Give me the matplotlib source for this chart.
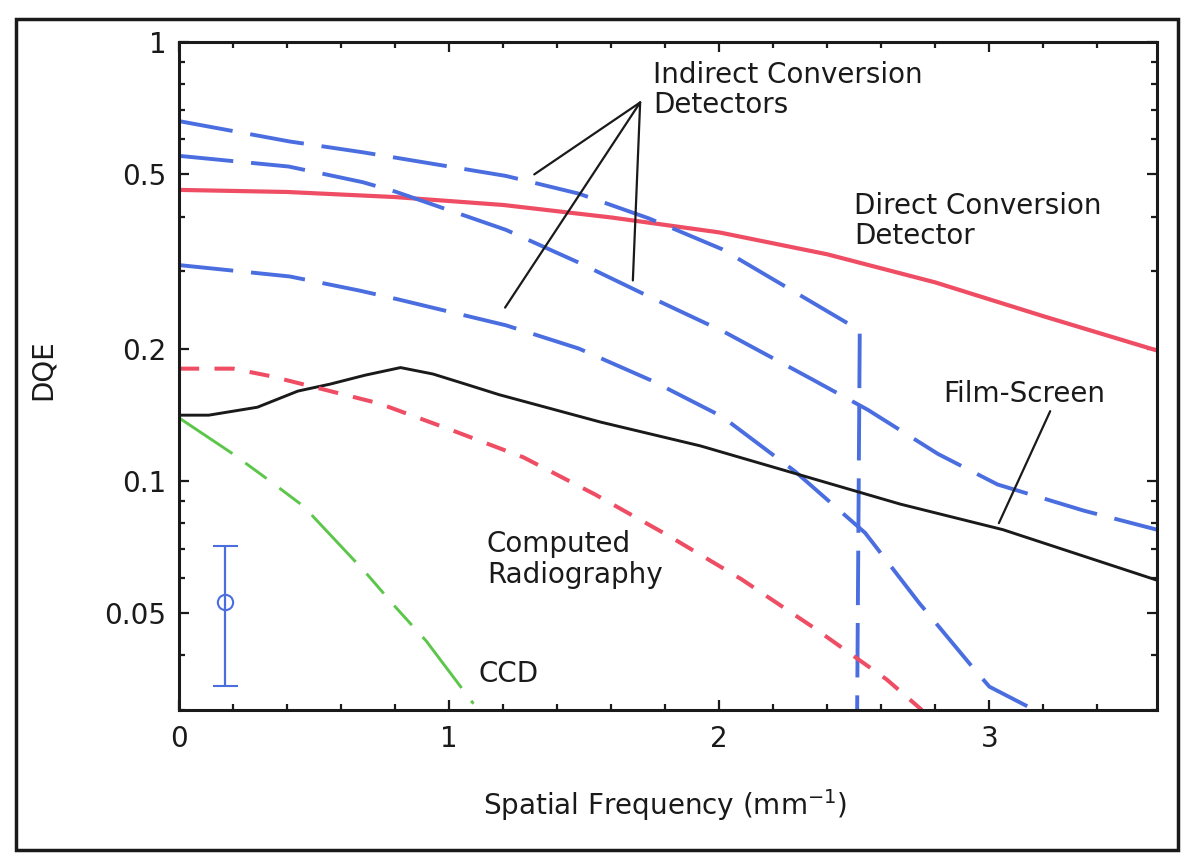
"""DQE vs spatial frequency for several x-ray detector types."""

import matplotlib
matplotlib.use("Agg")
import matplotlib.pyplot as plt
from matplotlib.patches import Rectangle
from matplotlib.ticker import FixedLocator, NullFormatter

plt.rcParams["font.family"] = ["DejaVu Sans"]

# ── Values ───────────────────────────────────────────────────────────────────
direct_x = [0, 0.4, 0.8, 1.2, 1.6, 2.0, 2.4, 2.8, 3.2, 3.62]
direct_y = [0.46, 0.455, 0.443, 0.425, 0.398, 0.368, 0.328, 0.283, 0.237, 0.198]

indirect1_x = [0, 0.41, 0.675, 0.80, 1.21, 1.48, 1.74, 2.01, 2.52, 2.51]
indirect1_y = [0.66, 0.593, 0.561, 0.545, 0.495, 0.451, 0.396, 0.337, 0.22, 0.028]

indirect2_x = [0, 0.406, 0.68, 0.80, 1.21, 1.475, 1.75, 2.02, 2.345, 2.55, 2.81,
               3.03, 3.35, 3.62]
indirect2_y = [0.55, 0.52, 0.479, 0.456, 0.373, 0.315, 0.261, 0.218, 0.170, 0.145,
               0.115, 0.098, 0.0854, 0.0773]

indirect3_x = [0, 0.41, 0.67, 0.81, 1.21, 1.48, 1.75, 2.01, 2.28, 2.54, 2.74, 2.94,
               3.0, 3.14]
indirect3_y = [0.31, 0.292, 0.271, 0.259, 0.226, 0.2, 0.169, 0.140, 0.105, 0.076,
               0.0526, 0.0374, 0.0339, 0.0306]

film_x = [0, 0.11, 0.29, 0.44, 0.56, 0.69, 0.82, 0.94, 1.06, 1.185, 1.56, 1.93,
          2.30, 2.67, 3.05, 3.62]
film_y = [0.141, 0.141, 0.147, 0.160, 0.166, 0.174, 0.181, 0.175, 0.166, 0.157,
          0.136, 0.120, 0.103, 0.0884, 0.0773, 0.0593]

cr_x = [0, 0.20, 0.34, 0.49, 0.74, 1.0, 1.275, 1.54, 1.81, 2.08, 2.35, 2.62, 2.75]
cr_y = [0.18, 0.18, 0.173, 0.164, 0.150, 0.131, 0.113, 0.093, 0.075, 0.0597,
        0.0462, 0.0352, 0.030]

ccd_x = [0, 0.20, 0.33, 0.46, 0.69, 0.80, 0.915, 1.09]
ccd_y = [0.139, 0.115, 0.1005, 0.0875, 0.0618, 0.0516, 0.0431, 0.031]

# typical uncertainty bar
err_x, err_y = 0.17, 0.053
err_lo, err_hi = 0.034, 0.071

y_major = [0.05, 0.1, 0.2, 0.5, 1]
y_major_labels = ["0.05", "0.1", "0.2", "0.5", "1"]
y_minor = [0.03, 0.04, 0.06, 0.07, 0.08, 0.09, 0.3, 0.4, 0.6, 0.7, 0.8, 0.9]
x_major = [0, 1, 2, 3]
x_minor = [0.2, 0.4, 0.6, 0.8, 1.2, 1.4, 1.6, 1.8, 2.2, 2.4, 2.6, 2.8, 3.2, 3.4]

RED = "#ee4d64"
BLUE = "#4a6ee0"
GREEN = "#5cc64a"
INK = "#1a1a1a"
FS = 20

# ── Figure ───────────────────────────────────────────────────────────────────
fig = plt.figure(figsize=(11.81, 8.58), dpi=100)
fig.patches.append(Rectangle((0.0135, 0.009), 0.984, 0.969, transform=fig.transFigure,
                             fill=False, lw=2.5, ec=INK))
ax = fig.add_axes([0.1516, 0.1725, 0.828, 0.7786])

ax.plot(direct_x, direct_y, color=RED, lw=3.0)
for xs, ys in [(indirect1_x, indirect1_y), (indirect2_x, indirect2_y),
               (indirect3_x, indirect3_y)]:
    ax.plot(xs, ys, color=BLUE, lw=2.8, dashes=(14, 4.6), dash_capstyle="butt")
ax.plot(film_x, film_y, color=INK, lw=2.1)
ax.plot(cr_x, cr_y, color=RED, lw=2.9, dashes=(5, 3.8))
ax.plot(ccd_x, ccd_y, color=GREEN, lw=2.1, dashes=(22, 5.5, 9, 5.5, 9, 5.5))

ax.errorbar([err_x], [err_y], yerr=[[err_y - err_lo], [err_hi - err_y]], fmt="o",
            mfc="none", mec=BLUE, ecolor=BLUE, ms=11, mew=1.5, elinewidth=1.6,
            capsize=9, capthick=1.6)

ax.set_yscale("log")
ax.set_xlim(0, 3.62)
ax.set_ylim(0.03, 1)
ax.yaxis.set_major_locator(FixedLocator(y_major))
ax.yaxis.set_minor_locator(FixedLocator(y_minor))
ax.set_yticklabels(y_major_labels)
ax.yaxis.set_minor_formatter(NullFormatter())
ax.xaxis.set_major_locator(FixedLocator(x_major))
ax.xaxis.set_minor_locator(FixedLocator(x_minor))

ax.tick_params(which="both", direction="in", top=True, right=True, width=1.6,
               colors=INK, labelsize=FS)
ax.tick_params(which="major", length=7)
ax.tick_params(which="minor", length=4.5)
ax.tick_params(axis="y", pad=9)
ax.tick_params(axis="x", pad=11)
for s in ax.spines.values():
    s.set_linewidth(2.2)
    s.set_color(INK)

ax.set_ylabel("DQE", fontsize=FS, color=INK)
ax.yaxis.set_label_coords(-0.125, 0.51)
ax.set_xlabel("Spatial Frequency (mm$^{-1}$)", fontsize=FS, color=INK)
ax.xaxis.set_label_coords(0.497, -0.115)

# ── Annotations ──────────────────────────────────────────────────────────────
txt = dict(fontsize=FS, color=INK, ha="left", va="top", linespacing=1.1)
ax.text(1.754, 0.905, "Indirect Conversion\nDetectors", **txt)
ax.text(2.50, 0.455, "Direct Conversion\nDetector", **txt)
ax.text(2.83, 0.17, "Film-Screen", **txt)
ax.text(1.14, 0.077, "Computed\nRadiography", **txt)
ax.text(1.11, 0.039, "CCD", **txt)

apex = (1.707, 0.728)
for end in [(1.315, 0.499), (1.207, 0.248), (1.68, 0.286)]:
    ax.annotate("", xy=end, xytext=apex,
                arrowprops=dict(arrowstyle="-", lw=1.6, color=INK, shrinkA=0, shrinkB=0))
ax.annotate("", xy=(3.035, 0.080), xytext=(3.225, 0.144),
            arrowprops=dict(arrowstyle="-", lw=1.6, color=INK, shrinkA=0, shrinkB=0))

fig.savefig("out.png", dpi=100)
